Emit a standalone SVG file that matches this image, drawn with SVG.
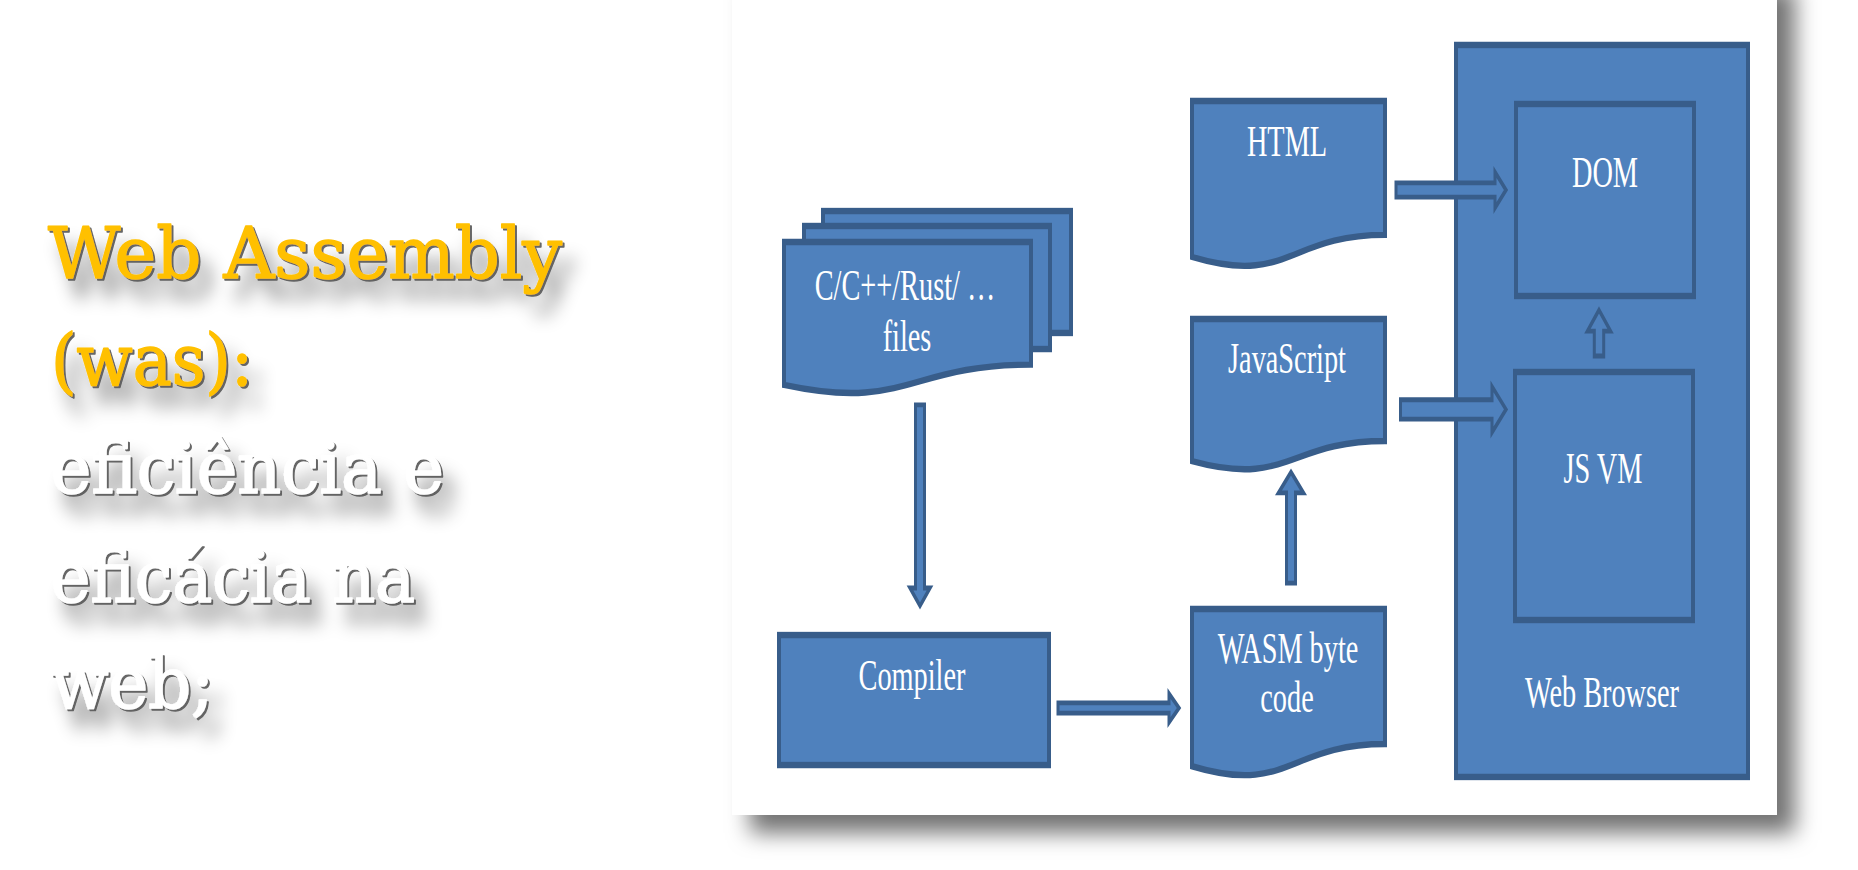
<svg xmlns="http://www.w3.org/2000/svg" width="1858" height="870" viewBox="0 0 1858 870">
<defs>
<style>
.shape{fill:#4F81BD;stroke:#385D8A;stroke-width:4;stroke-linejoin:miter}
.arrow{fill:#4F81BD;stroke:#385D8A;stroke-width:3;stroke-linejoin:miter}
.lbl{font-family:"Liberation Serif","Times New Roman",serif;font-size:28.3px;fill:#FFFFFF;text-anchor:middle}
.title{font-family:"DejaVu Serif","Liberation Serif",serif;font-size:71px;stroke-width:1.6px;stroke-linejoin:round}
.gold{fill:#FFC000;stroke:#FFC000}
.white{fill:#FFFFFF;stroke:#FFFFFF}
</style>
<filter id="cardShadow" x="-10%" y="-10%" width="130%" height="130%">
<feGaussianBlur in="SourceAlpha" stdDeviation="11"/>
<feOffset dx="18" dy="18" result="o"/>
<feFlood flood-color="#000000" flood-opacity="0.55"/>
<feComposite in2="o" operator="in"/>
</filter>
<filter id="tshadow" x="-10%" y="-40%" width="130%" height="200%">
<feGaussianBlur in="SourceAlpha" stdDeviation="9" result="b"/>
<feOffset in="b" dx="12" dy="20" result="o"/>
<feFlood flood-color="#000000" flood-opacity="0.45" result="f1"/>
<feComposite in="f1" in2="o" operator="in" result="s"/>
<feOffset in="SourceAlpha" dx="2" dy="2" result="e"/>
<feFlood flood-color="#555555" flood-opacity="0.9" result="f2"/>
<feComposite in="f2" in2="e" operator="in" result="es"/>
<feMerge><feMergeNode in="s"/><feMergeNode in="es"/><feMergeNode in="SourceGraphic"/></feMerge>
</filter>
</defs>
<rect x="0" y="0" width="1858" height="870" fill="#FFFFFF"/>

<g id="title" filter="url(#tshadow)">
<text class="title gold" x="48" y="278" textLength="514" lengthAdjust="spacingAndGlyphs">Web Assembly</text>
<text class="title gold" x="51" y="385" textLength="202" lengthAdjust="spacingAndGlyphs">(was):</text>
<text class="title white" x="51" y="493" textLength="393" lengthAdjust="spacingAndGlyphs">eficiência e</text>
<text class="title white" x="51" y="602" textLength="364" lengthAdjust="spacingAndGlyphs">eficácia na</text>
<text class="title white" x="51" y="708" textLength="163" lengthAdjust="spacingAndGlyphs">web;</text>
</g>

<g id="card">
<rect x="732" y="-30" width="1045" height="845" fill="#000000" filter="url(#cardShadow)"/>
<rect x="732" y="-30" width="1045" height="845" fill="#FFFFFF"/>
</g>

<g transform="scale(1 1.6)">
<g id="source-files">
<rect class="shape" x="823" y="131.9" width="248" height="76.2"/>
<rect class="shape" x="804" y="141.25" width="246" height="76.9"/>
<path class="shape" d="M784,151.25 H1031 V227.92 C907.5,227.92 907.5,257.13 784,240.54 Z"/>
<text class="lbl" x="905" y="187.5">C/C++/Rust/ …</text>
<text class="lbl" x="907" y="219.4">files</text>
</g>
<g id="compiler">
<rect class="shape" x="779" y="396.9" width="270" height="81.25"/>
<text class="lbl" x="912" y="431.25">Compiler</text>
</g>
<g id="html">
<path class="shape" d="M1192,63.13 H1385 V146.8 C1288.5,146.8 1288.5,178.75 1192,160.6 Z"/>
<text class="lbl" x="1287" y="97.5">HTML</text>
</g>
<g id="javascript">
<path class="shape" d="M1192,199.4 H1385 V275.6 C1288.5,275.6 1288.5,304.7 1192,288.2 Z"/>
<text class="lbl" x="1287" y="233.1">JavaScript</text>
</g>
<g id="wasm">
<path class="shape" d="M1192,380.6 H1385 V465 C1288.5,465 1288.5,497.1 1192,478.9 Z"/>
<text class="lbl" x="1288" y="414.4">WASM byte</text>
<text class="lbl" x="1287" y="445">code</text>
</g>
<g id="web-browser">
<rect class="shape" x="1456" y="28.1" width="292" height="457.5"/>
<text class="lbl" x="1602" y="441.9">Web Browser</text>
</g>
<g id="dom">
<rect class="shape" x="1516" y="65" width="178" height="120"/>
<text class="lbl" x="1605" y="116.9">DOM</text>
</g>
<g id="js-vm">
<rect class="shape" x="1515" y="232.5" width="178" height="155"/>
<text class="lbl" x="1603" y="301.9">JS VM</text>
</g>
<g id="connectors">
<polygon class="arrow" points="915.5,253.1 924.5,253.1 924.5,367.5 930,367.5 920,378.75 910,367.5 915.5,367.5"/>
<polygon class="arrow" points="1058,439.25 1169,439.25 1169,433.44 1179,442.5 1169,451.56 1169,445.75 1058,445.75"/>
<polygon class="arrow" points="1291,295 1303.5,308.1 1295.5,308.1 1295.5,364.4 1286.5,364.4 1286.5,308.1 1278.5,308.1"/>
<polygon class="arrow" points="1396,114.25 1495,114.25 1495,107.5 1506,118.75 1495,130 1495,123.25 1396,123.25"/>
<polygon class="arrow" points="1400.5,249.84 1492,249.84 1492,241.5 1506,255.9 1492,270.3 1492,261.96 1400.5,261.96"/>
<polygon class="arrow" points="1599,193.75 1610.5,206.9 1603.7,206.9 1603.7,222.5 1594.3,222.5 1594.3,206.9 1587.5,206.9"/>
</g>
</g>
</svg>
